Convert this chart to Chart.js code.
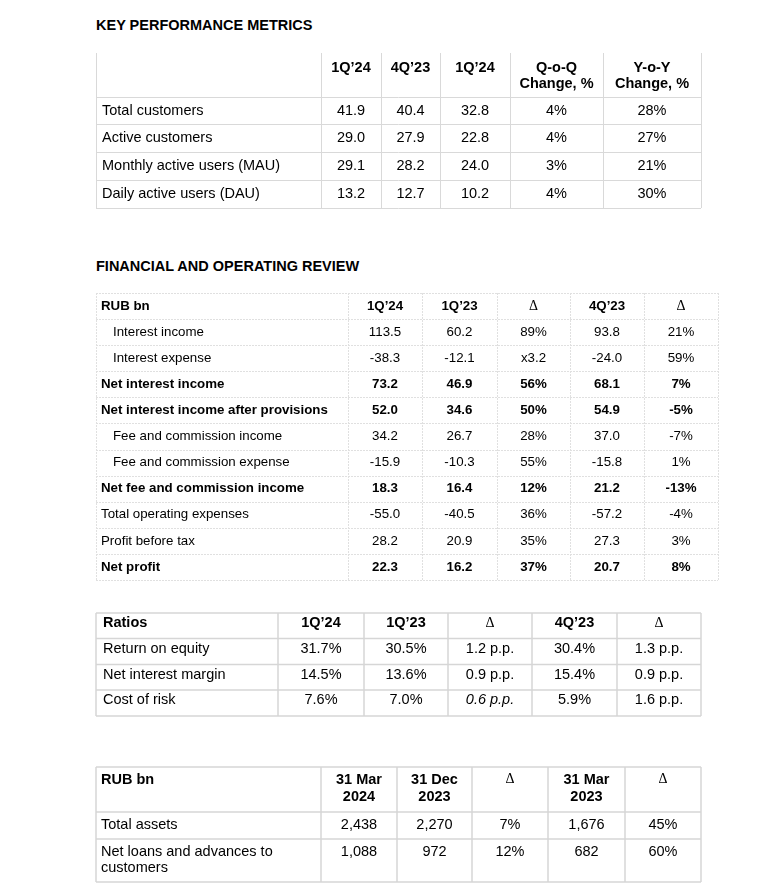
<!DOCTYPE html>
<html>
<head>
<meta charset="utf-8">
<script src="https://cdn.jsdelivr.net/npm/chart.js@4.4.1/dist/chart.umd.min.js"></script>
<style>
  html, body { margin: 0; padding: 0; background: #fff; }
  body { position: relative; width: 769px; height: 891px; overflow: hidden; }
  .title { position: absolute; left: 96px; font: bold 14.5px "Liberation Sans", Arial, sans-serif; line-height: 17px; color: #000; }
  canvas { position: absolute; }
</style>
</head>
<body>
<div class="title" style="top:17px">KEY PERFORMANCE METRICS</div>
<div class="title" style="top:258px">FINANCIAL AND OPERATING REVIEW</div>

<script>
// --- key performance metrics
const kpmHeaders = ['1Q’24', '4Q’23', '1Q’24', ['Q-o-Q', 'Change, %'], ['Y-o-Y', 'Change, %']];
const kpmMetrics = ['Total customers', 'Active customers', 'Monthly active users (MAU)', 'Daily active users (DAU)'];
const kpm1Q24 = [41.9, 29.0, 29.1, 13.2];
const kpm4Q23 = [40.4, 27.9, 28.2, 12.7];
const kpm1Q23 = [32.8, 22.8, 24.0, 10.2];
const kpmQoQ = [4, 4, 3, 4];
const kpmYoY = [28, 27, 21, 30];

// --- financial and operating review
const forHeaders = ['1Q’24', '1Q’23', 'Δ', '4Q’23', 'Δ'];
const forItems = ['Interest income', 'Interest expense', 'Net interest income', 'Net interest income after provisions',
  'Fee and commission income', 'Fee and commission expense', 'Net fee and commission income',
  'Total operating expenses', 'Profit before tax', 'Net profit'];
const for1Q24 = [113.5, -38.3, 73.2, 52.0, 34.2, -15.9, 18.3, -55.0, 28.2, 22.3];
const for1Q23 = [60.2, -12.1, 46.9, 34.6, 26.7, -10.3, 16.4, -40.5, 20.9, 16.2];
const forYoY = ['89%', 'x3.2', '56%', '50%', '28%', '55%', '12%', '36%', '35%', '37%'];
const for4Q23 = [93.8, -24.0, 68.1, 54.9, 37.0, -15.8, 21.2, -57.2, 27.3, 20.7];
const forQoQ = ['21%', '59%', '7%', '-5%', '-7%', '1%', '-13%', '-4%', '3%', '8%'];

// --- ratios
const ratioHeaders = ['1Q’24', '1Q’23', 'Δ', '4Q’23', 'Δ'];
const ratioNames = ['Return on equity', 'Net interest margin', 'Cost of risk'];
const ratio1Q24 = [31.7, 14.5, 7.6];
const ratio1Q23 = [30.5, 13.6, 7.0];
const ratioYoY = [1.2, 0.9, 0.6];
const ratio4Q23 = [30.4, 15.4, 5.9];
const ratioQoQ = [1.3, 0.9, 1.6];

// --- balance sheet
const bsHeaders = [['31 Mar', '2024'], ['31 Dec', '2023'], 'Δ', ['31 Mar', '2023'], 'Δ'];
const bsItems = ['Total assets', ['Net loans and advances to', 'customers']];
const bsMar24 = [2438, 1088];
const bsDec23 = [2270, 972];
const bsYtd = [7, 12];
const bsMar23 = [1676, 682];
const bsYoY = [45, 60];

const fmt1 = v => v.toFixed(1);
const pct = v => v + '%';
const pct1 = v => v.toFixed(1) + '%';
const pp = v => v.toFixed(1) + ' p.p.';
const thou = v => v.toLocaleString('en-US');
const same = v => v;

const cumul = arr => arr.reduce((a, w) => { a.push(a[a.length - 1] + w); return a; }, [0]);

const tableCells = {
  id: 'tableCells',
  beforeDatasetsDraw(chart, _args, o) {
    const { ctx, scales: { x, y } } = chart;
    const ex = cumul(o.colWidths), ey = cumul(o.rowHeights);
    const snap = v => (o.lineWidth === 1 ? Math.round(v) + 0.5 : v);
    const x0 = x.getPixelForValue(0), x1 = x.getPixelForValue(ex[ex.length - 1]);
    const y0 = y.getPixelForValue(0), y1 = y.getPixelForValue(ey[ey.length - 1]);
    ctx.save();
    ctx.strokeStyle = o.lineColor;
    ctx.lineWidth = o.lineWidth;
    ctx.setLineDash(o.dash || []);
    const seg = (a, b, c, d) => { ctx.beginPath(); ctx.moveTo(a, b); ctx.lineTo(c, d); ctx.stroke(); };
    ey.forEach((v, i) => {
      if (i === 0 && o.noTop) return;
      const p = snap(y.getPixelForValue(v));
      seg(x0, p, x1, p);
    });
    ex.forEach(v => {
      const p = snap(x.getPixelForValue(v));
      seg(p, y0, p, y1);
    });
    ctx.restore();
  },
  afterDatasetsDraw(chart) {
    const ctx = chart.ctx;
    chart.data.datasets.forEach((ds, di) => {
      chart.getDatasetMeta(di).data.forEach((pt, i) => {
        const cell = ds.data[i];
        const lines = [].concat(cell.text);
        ctx.save();
        ctx.fillStyle = '#000';
        ctx.textAlign = ds.align;
        ctx.textBaseline = 'middle';
        ctx.font = cell.font;
        lines.forEach((t, k) => ctx.fillText(t, pt.x, pt.y + k * cell.lh));
        ctx.restore();
      });
    });
  }
};

function buildTable(L, corner, headers, rows, columns) {
  const ex = cumul(L.colWidths), ey = cumul(L.rowHeights);
  const anchorY = r => {
    const a = r === 0 ? L.headerAnchor : L.bodyAnchor;
    return a === 'center' ? (ey[r] + ey[r + 1]) / 2 : ey[r] + a;
  };
  const font = (bold, italic) =>
    `${italic ? 'italic ' : ''}${bold ? 'bold ' : ''}${L.fontSize}px "Liberation Sans", Arial, sans-serif`;
  const bold = i => (L.boldRows || []).includes(i);

  const labelData = [{ x: L.padLeft, y: anchorY(0), text: corner, font: font(true), lh: L.headerLH }];
  rows.forEach((r, i) => labelData.push({
    x: L.padLeft + ((L.indentRows || []).includes(i) ? L.indent : 0),
    y: anchorY(i + 1), text: r, font: font(bold(i)), lh: L.bodyLH
  }));
  const datasets = [{ data: labelData, align: 'left', pointRadius: 0 }];

  columns.forEach((col, c) => {
    const cx = (ex[c + 1] + ex[c + 2]) / 2;
    const h = headers[c];
    const data = [{
      x: cx, y: anchorY(0), text: h, lh: L.headerLH,
      font: h === 'Δ' ? `${L.deltaSize}px "Liberation Serif", "Times New Roman", serif` : font(true)
    }];
    col.values.forEach((v, i) => data.push({
      x: cx, y: anchorY(i + 1), text: col.fmt(v), lh: L.bodyLH,
      font: font(bold(i), (L.italicCells || []).some(([r, cc]) => r === i && cc === c))
    }));
    datasets.push({ data, align: 'center', pointRadius: 0 });
  });

  const pad = 2;
  const w = ex[ex.length - 1], h = ey[ey.length - 1];
  const canvas = document.createElement('canvas');
  canvas.width = Math.ceil(w + 2 * pad);
  canvas.height = Math.ceil(h + 2 * pad);
  canvas.style.left = (L.left - pad) + 'px';
  canvas.style.top = (L.top - pad) + 'px';
  document.body.appendChild(canvas);

  return new Chart(canvas, {
    type: 'scatter',
    data: { datasets },
    options: {
      responsive: false,
      animation: false,
      devicePixelRatio: 1,
      layout: { padding: pad },
      events: [],
      scales: {
        x: { type: 'linear', min: 0, max: w, display: false },
        y: { type: 'linear', min: 0, max: h, reverse: true, display: false }
      },
      plugins: {
        legend: { display: false },
        tooltip: { enabled: false },
        tableCells: L
      }
    },
    plugins: [tableCells]
  });
}

buildTable({
  left: 96, top: 53,
  colWidths: [225, 60, 59, 70, 93, 98],
  rowHeights: [44, 27, 28, 28, 28],
  fontSize: 14.5, headerLH: 16, bodyLH: 16,
  headerAnchor: 15, bodyAnchor: 'center',
  padLeft: 6,
  lineColor: '#d9d9d9', lineWidth: 1, noTop: true
}, '', kpmHeaders, kpmMetrics, [
  { values: kpm1Q24, fmt: fmt1 },
  { values: kpm4Q23, fmt: fmt1 },
  { values: kpm1Q23, fmt: fmt1 },
  { values: kpmQoQ, fmt: pct },
  { values: kpmYoY, fmt: pct }
]);

buildTable({
  left: 96, top: 293,
  colWidths: [252, 74, 75, 73, 74, 74],
  rowHeights: [26, 26.1, 26.1, 26.1, 26.1, 26.1, 26.1, 26.1, 26.1, 26.1, 26.1],
  fontSize: 13.3, headerLH: 15, bodyLH: 15, deltaSize: 14,
  headerAnchor: 'center', bodyAnchor: 'center',
  padLeft: 5, indent: 12,
  boldRows: [2, 3, 6, 9], indentRows: [0, 1, 4, 5],
  lineColor: '#e0e0e0', lineWidth: 1, dash: [2, 1]
}, 'RUB bn', forHeaders, forItems, [
  { values: for1Q24, fmt: fmt1 },
  { values: for1Q23, fmt: fmt1 },
  { values: forYoY, fmt: same },
  { values: for4Q23, fmt: fmt1 },
  { values: forQoQ, fmt: same }
]);

buildTable({
  left: 96, top: 613,
  colWidths: [182, 86, 84, 84, 85, 84],
  rowHeights: [25.5, 26, 25.5, 26],
  fontSize: 14.5, headerLH: 16, bodyLH: 16, deltaSize: 14,
  headerAnchor: 10, bodyAnchor: 10,
  padLeft: 7,
  italicCells: [[2, 2]],
  lineColor: '#d6d6d6', lineWidth: 1.5
}, 'Ratios', ratioHeaders, ratioNames, [
  { values: ratio1Q24, fmt: pct1 },
  { values: ratio1Q23, fmt: pct1 },
  { values: ratioYoY, fmt: pp },
  { values: ratio4Q23, fmt: pct1 },
  { values: ratioQoQ, fmt: pp }
]);

buildTable({
  left: 96, top: 767,
  colWidths: [225, 76, 75, 76, 77, 76],
  rowHeights: [45, 27, 43],
  fontSize: 14.5, headerLH: 17, bodyLH: 16, deltaSize: 14,
  headerAnchor: 12.5, bodyAnchor: 13,
  padLeft: 5,
  lineColor: '#d6d6d6', lineWidth: 1.5
}, 'RUB bn', bsHeaders, bsItems, [
  { values: bsMar24, fmt: thou },
  { values: bsDec23, fmt: thou },
  { values: bsYtd, fmt: pct },
  { values: bsMar23, fmt: thou },
  { values: bsYoY, fmt: pct }
]);
</script>
</body>
</html>
